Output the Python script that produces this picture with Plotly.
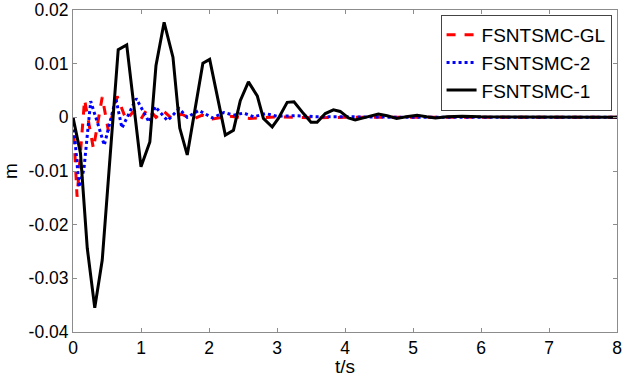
import plotly.graph_objects as go

# FSNTSMC-1 (black solid)
t_smc1 = [0, 0.11, 0.21, 0.32, 0.43, 0.665, 0.79, 1.0, 1.13, 1.22, 1.34, 1.47, 1.57, 1.68,
          1.91, 2.01, 2.24, 2.36, 2.46, 2.58, 2.71, 2.80, 2.93, 3.02, 3.15, 3.25, 3.39, 3.50,
          3.59, 3.71, 3.83, 3.93, 4.05, 4.15, 4.30, 4.49, 4.62, 4.76, 4.90, 5.06, 5.20, 5.33,
          5.50, 5.72, 6.0, 6.5, 7.0, 7.5, 8.0]
m_smc1 = [0, -0.0067, -0.0244, -0.0355, -0.0266, 0.0126, 0.0135, -0.0092, -0.0046, 0.0096,
          0.0177, 0.0112, -0.0020, -0.0070, 0.0101, 0.0108, -0.0033, -0.0024, 0.0031, 0.0066,
          0.0040, -0.0002, -0.0018, -0.0002, 0.0028, 0.0029, 0.0007, -0.0009, -0.0009, 0.0007,
          0.0014, 0.0011, -0.0001, -0.0005, 0.0000, 0.0006, 0.0003, -0.0002, 0.0001, 0.0004,
          0.0001, -0.0001, 0.0001, 0.0002, 0.0001, 0.0001, 0.0, 0.0, 0.0]

# FSNTSMC-2 (blue dotted)
t_smc2 = [0, 0.09, 0.16, 0.26, 0.36, 0.46, 0.63, 0.72, 0.93, 1.12, 1.21, 1.39, 1.56, 1.68,
          1.85, 2.05, 2.22, 2.36, 2.51, 2.66, 2.83, 3.0, 3.3, 3.6, 4.0, 4.5, 5.0, 6.0, 7.0, 8.0]
m_smc2 = [0, -0.0130, -0.0097, 0.0030, -0.0010, -0.0052, 0.0035, -0.0020, 0.0035, -0.0009,
          0.0020, -0.0006, 0.0016, 0.0000, 0.0013, -0.0001, 0.0009, 0.0004, 0.0008, 0.0001,
          0.0007, 0.0002, 0.0003, 0.0001, 0.0001, 0.0, 0.0, 0.0, 0.0, 0.0]

# FSNTSMC-GL (red dashed)
t_gl = [0, 0.06, 0.17, 0.30, 0.43, 0.52, 0.65, 0.78, 0.90, 1.0, 1.10, 1.22, 1.33, 1.45, 1.60,
        1.75, 1.90, 2.05, 2.30, 2.60, 3.0, 3.5, 4.0, 5.0, 6.0, 7.0, 8.0]
m_gl = [0, -0.0148, 0.0033, -0.0058, 0.0038, -0.0025, 0.0039, -0.0004, 0.0012, -0.0003,
        0.0017, 0.0000, 0.0012, -0.0002, 0.0006, -0.0004, 0.0004, -0.0003, 0.0002, -0.0002,
        0.0001, -0.0001, 0.0, 0.0, 0.0, 0.0, 0.0]

y_ticks = [0.02, 0.01, 0, -0.01, -0.02, -0.03, -0.04]
y_labels = ["0.02", "0.01", "0", "-0.01", "-0.02", "-0.03", "-0.04"]
x_ticks = [0, 1, 2, 3, 4, 5, 6, 7, 8]

fig = go.Figure()
fig.add_trace(go.Scatter(x=t_gl, y=m_gl, mode="lines", name="FSNTSMC-GL",
                         line={"color": "#FF0000", "width": 3, "dash": "dash"}))
fig.add_trace(go.Scatter(x=t_smc2, y=m_smc2, mode="lines", name="FSNTSMC-2",
                         line={"color": "#0000FF", "width": 3, "dash": "dot"}))
fig.add_trace(go.Scatter(x=t_smc1, y=m_smc1, mode="lines", name="FSNTSMC-1",
                         line={"color": "#000000", "width": 3}))

axis_style = dict(
    showgrid=False, zeroline=False, showline=True, linecolor="#8C8C8C", linewidth=1,
    mirror="ticks", ticks="inside", ticklen=4, tickcolor="#8C8C8C",
    tickfont={"size": 17.5, "color": "#000000"}, ticklabeloverflow="allow",
    automargin=False,
)
fig.update_xaxes(range=[0, 8], tickvals=x_ticks, title={"text": "t/s", "standoff": 5,
                 "font": {"size": 19}}, **axis_style)
fig.update_yaxes(range=[-0.04, 0.02], tickvals=y_ticks, ticktext=y_labels,
                 title={"text": "m", "standoff": 6, "font": {"size": 19}}, **axis_style)

fig.update_layout(
    width=624, height=377,
    margin={"l": 73, "r": 7, "t": 10, "b": 45, "autoexpand": False},
    paper_bgcolor="#FFFFFF", plot_bgcolor="#FFFFFF",
    font={"family": "Arial, Liberation Sans, sans-serif", "color": "#000000"},
    legend={"x": 0.99, "y": 0.985, "xanchor": "right", "yanchor": "top",
            "bordercolor": "#444444", "borderwidth": 1, "bgcolor": "#FFFFFF",
            "font": {"size": 19}, "tracegroupgap": 0, "itemwidth": 30},
)

# drop the default 8px body margin so the figure fills the window exactly
fig.write_html("out.html", config={"displayModeBar": False},
               post_script="document.body.style.margin = '0';")
